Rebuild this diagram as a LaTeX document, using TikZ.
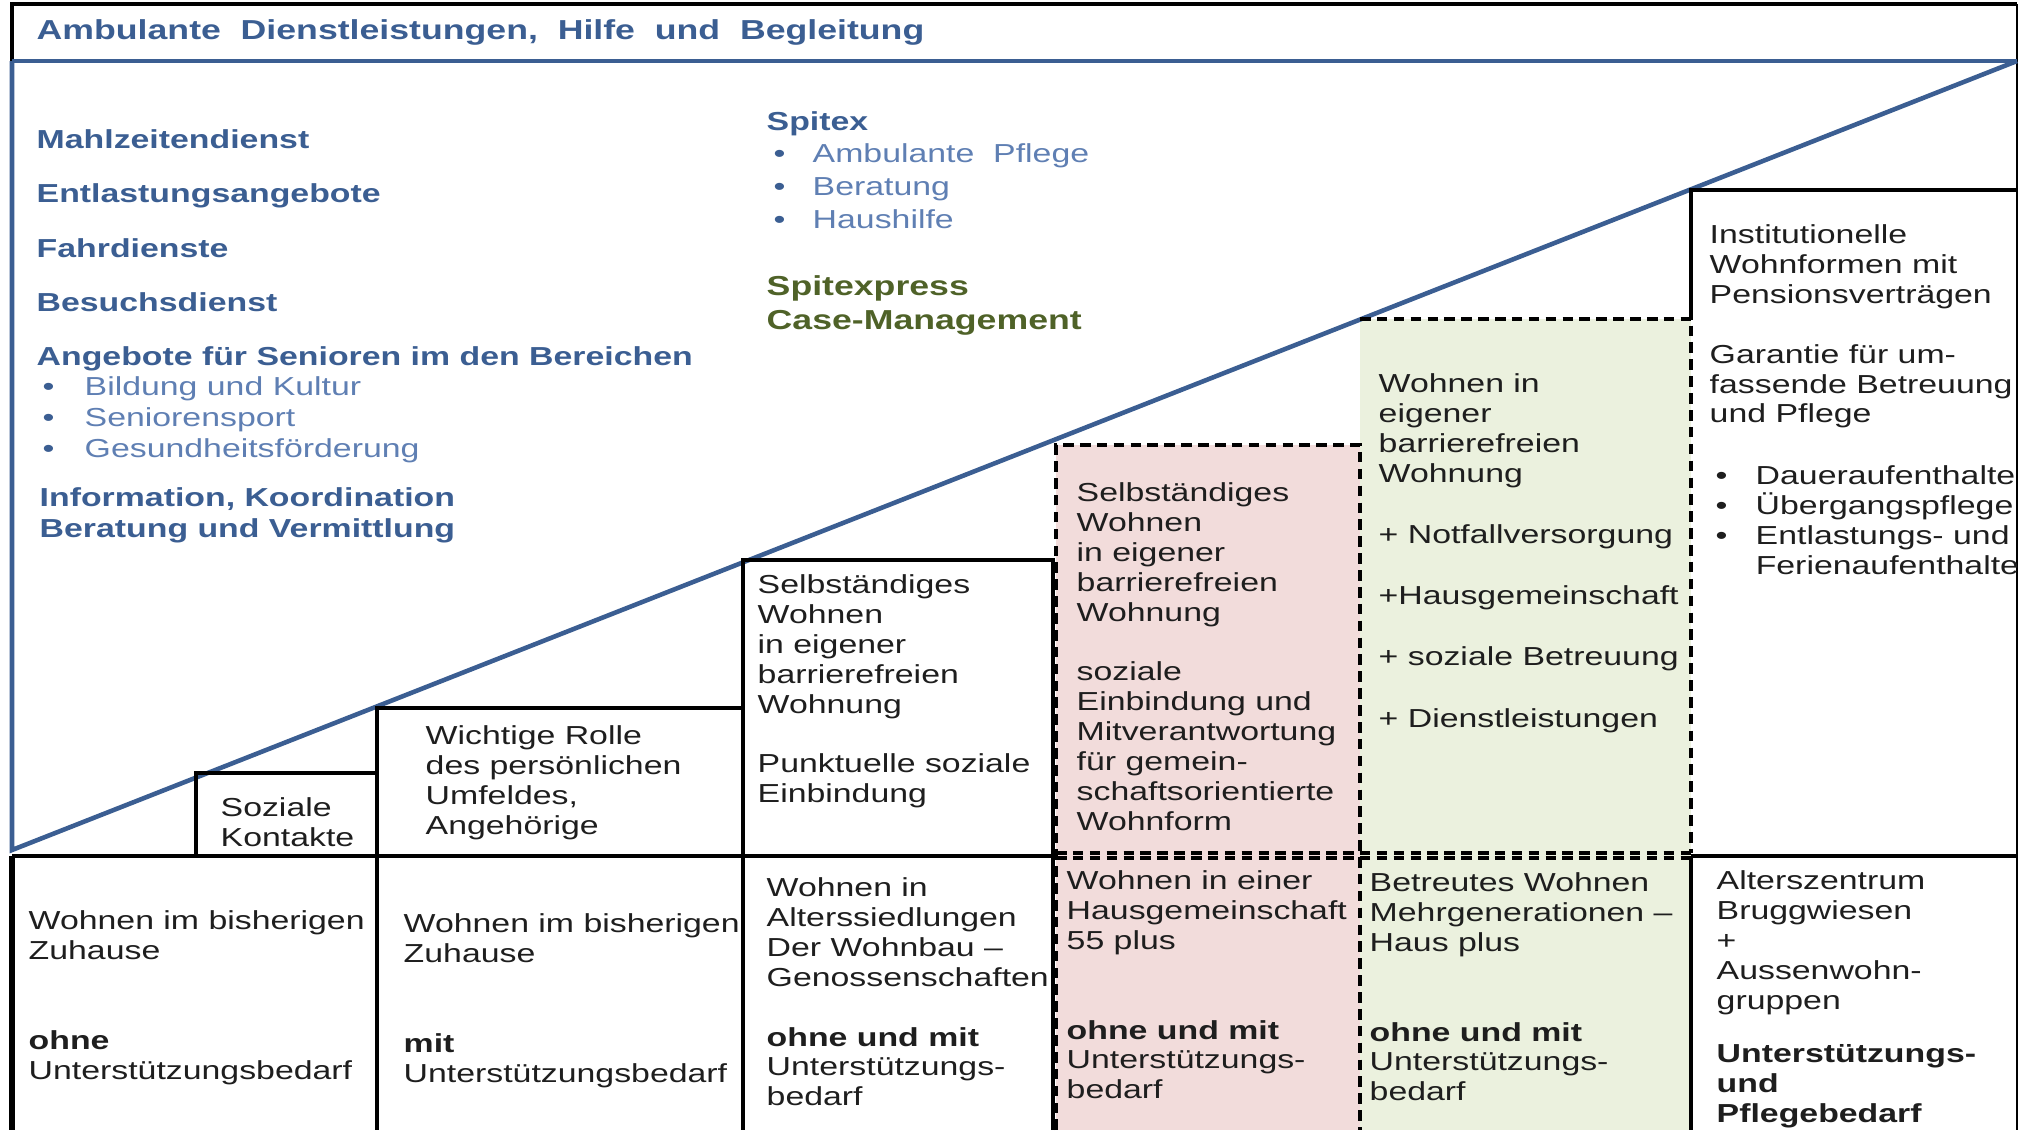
\documentclass[tikz,border=0pt]{standalone}
\usepackage{fontspec}
\setmainfont{Liberation Sans}[FakeStretch=1.3]

\definecolor{stahlblau}{HTML}{3B5E92}
\definecolor{hellblau}{HTML}{5F7FB3}
\definecolor{oliv}{HTML}{4F6228}
\definecolor{rosa}{HTML}{F2DCDB}
\definecolor{hellgruen}{HTML}{EBF1DE}
\definecolor{schrift}{HTML}{1E1E1E}

\newcommand{\blaupunkt}[1]{\makebox[#1][l]{\textcolor{stahlblau}{•}}}

\tikzset{
  txt/.style={anchor=north west, inner sep=0pt, align=left, text=schrift,
    font=\fontsize{7.4}{8.5}\selectfont},
  kopf/.style={txt, text=stahlblau, font=\fontsize{7.4}{8.8}\selectfont\bfseries},
  liste/.style={txt, text=hellblau, font=\fontsize{7.4}{8.8}\selectfont},
  oliv/.style={txt, text=oliv, font=\fontsize{7.8}{9.6}\selectfont\bfseries},
  linie/.style={line width=1pt, draw=black},
  strich/.style={line width=0.9pt, draw=black, dash pattern=on 3pt off 1.8pt},
  blau/.style={line width=1.3pt, draw=stahlblau},
}

\begin{document}
\begin{tikzpicture}[x=0.01cm, y=-0.01cm]
\useasboundingbox (0,0) rectangle (2019,1130);

% Farbflaechen
\fill[rosa] (1056,445) rectangle (1360,1130);
\fill[hellgruen] (1360,319) rectangle (1691,1130);

% Titelleiste und Rahmen
\draw[linie] (12,61) -- (12,4) -- (2017,4);
\draw[line width=0.4pt] (2017,4) -- (2017,1130);
\draw[blau] (12,61) -- (2017,61);

% Diagonale
\draw[blau] (12,61) -- (12,850) -- (2017,61);

% Treppe: Kaesten unter der Diagonale
\foreach \xa/\xb/\yt in {196/377/773, 377/743/708, 743/1053/560}{
    \draw[linie] (\xa,856) rectangle (\xb,\yt);
}
\draw[linie] (1691,319) |- (2017,190);

% untere Zeile
\draw[linie] (12,856) -- (1053,856);
\draw[linie] (1691,856) -- (2017,856);
\draw[line width=1.5pt] (12,856) -- (12,1130);
\foreach \x in {377,743,1053,1691}
    \draw[linie] (\x,856) -- (\x,1130);

% gestrichelte Kaesten
\draw[strich] (1056,1130) -- (1056,445) -- (1360,445) -- (1360,1130);
\draw[strich] (1360,319) -- (1691,319) -- (1691,853);
\draw[strich] (1056,853) -- (1691,853);
\draw[strich] (1056,858) -- (1691,858);

% Titel
\node[kopf, font=\fontsize{7.8}{9}\selectfont\bfseries] (titel) at (36,19)
    {Ambulante\ \ Dienstleistungen,\ \ Hilfe\ \ und\ \ Begleitung};

% Angebote links
\foreach \y/\name/\txt in {129/mahlzeit/Mahlzeitendienst,
    183/entlastung/Entlastungsangebote,
    238/fahrdienst/Fahrdienste,
    292/besuch/Besuchsdienst,
    346/angebote/Angebote für Senioren im den Bereichen}
    \node[kopf] (\name) at (36,\y) {\txt};

\node[liste] (bereiche) at (42,376) {%
    \blaupunkt{0.42cm}Bildung und Kultur\\
    \blaupunkt{0.42cm}Seniorensport\\
    \blaupunkt{0.42cm}Gesundheitsförderung};
\node[kopf] (info) at (39,487) {Information, Koordination\\Beratung und Vermittlung};

% Spitex
\node[kopf] (spitex) at (766,111) {Spitex};
\node[liste, font=\fontsize{7.4}{9.4}\selectfont] (spitexliste) at (773,143) {%
    \blaupunkt{0.39cm}Ambulante\ \ Pflege\\
    \blaupunkt{0.39cm}Beratung\\
    \blaupunkt{0.39cm}Haushilfe};
\node[oliv] (spitexpress) at (766,275) {Spitexpress\\Case-Management};

% Texte der Treppe
\node[txt] (soziale) at (220,797) {Soziale\\Kontakte};
\node[txt] (rolle) at (425,725) {Wichtige Rolle\\des persönlichen\\Umfeldes,\\Angehörige};
\node[txt] (selbst) at (757,574) {Selbständiges\\Wohnen\\in eigener\\barrierefreien\\Wohnung\\[8.5pt]
    Punktuelle soziale\\Einbindung};
\node[txt] (gemein) at (1076,482) {Selbständiges\\Wohnen\\in eigener\\barrierefreien\\Wohnung\\[8.5pt]
    soziale\\Einbindung und\\Mitverantwortung\\für gemein-\\schaftsorientierte\\Wohnform};
\node[txt] (betreut) at (1378,373) {Wohnen in\\eigener\\barrierefreien\\Wohnung\\[8.9pt]
    + Notfallversorgung\\[8.9pt] +Hausgemeinschaft\\[8.9pt] + soziale Betreuung\\[8.9pt]
    + Dienstleistungen};
\node[txt] (institution) at (1709,224) {Institutionelle\\Wohnformen mit\\Pensionsverträgen\\[8.5pt]
    Garantie für um-\\fassende Betreuung\\und Pflege};
\node[txt] (aufenthalte) at (1715,465) {%
    \makebox[0.40cm][l]{•}Daueraufenthalte\\
    \makebox[0.40cm][l]{•}Übergangspflege\\
    \makebox[0.40cm][l]{•}Entlastungs- und\\
    \makebox[0.40cm][l]{}Ferienaufenthalte};

% Wohnformen unten
\node[txt] (zuhause) at (28,910) {Wohnen im bisherigen\\Zuhause\\[17pt]
    \textbf{ohne}\\Unterstützungsbedarf};
\node[txt] (zuhausemit) at (403,913) {Wohnen im bisherigen\\Zuhause\\[17pt]
    \textbf{mit}\\Unterstützungsbedarf};
\node[txt] (siedlung) at (766,877) {Wohnen in\\Alterssiedlungen\\Der Wohnbau –\\Genossenschaften\\[8.5pt]
    \textbf{ohne und mit}\\Unterstützungs-\\bedarf};
\node[txt] (hausgem) at (1066,870) {Wohnen in einer\\Hausgemeinschaft\\55 plus\\[17pt]
    \textbf{ohne und mit}\\Unterstützungs-\\bedarf};
\node[txt] (mehrgen) at (1369,872) {Betreutes Wohnen\\Mehrgenerationen –\\Haus plus\\[17pt]
    \textbf{ohne und mit}\\Unterstützungs-\\bedarf};
\node[txt] (zentrum) at (1716,870) {Alterszentrum\\Bruggwiesen\\+\\Aussenwohn-\\gruppen\\[6.8pt]
    \textbf{Unterstützungs-}\\\textbf{und}\\\textbf{Pflegebedarf}};
\end{tikzpicture}
\end{document}
